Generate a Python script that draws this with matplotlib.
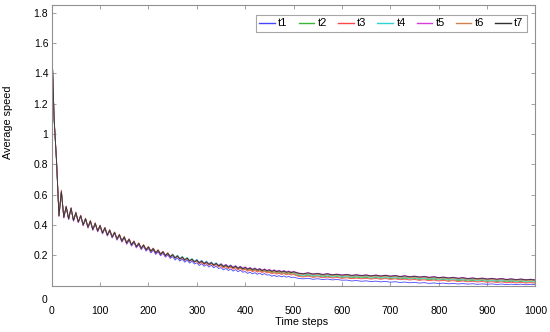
import matplotlib
matplotlib.use("Agg")
import matplotlib.pyplot as plt

plt.rcParams['font.family'] = ['Liberation Sans', 'DejaVu Sans']

# time steps: every 5 up to 500, then every 10
steps = list(range(0, 501, 5)) + list(range(510, 1001, 10))

t1 = [1.62, 1.09, 0.81, 0.46, 0.61, 0.45, 0.515, 0.435, 0.505, 0.425,
      0.475, 0.415, 0.455, 0.395, 0.435, 0.38, 0.42, 0.365, 0.405, 0.355,
      0.389, 0.341, 0.374, 0.327, 0.359, 0.314, 0.344, 0.3, 0.329, 0.287,
      0.312, 0.272, 0.297, 0.26, 0.283, 0.248, 0.27, 0.237, 0.258, 0.227,
      0.244, 0.215, 0.233, 0.205, 0.222, 0.196, 0.212, 0.187, 0.202, 0.179,
      0.19, 0.168, 0.182, 0.161, 0.174, 0.154, 0.167, 0.148, 0.16, 0.142,
      0.15, 0.132, 0.144, 0.127, 0.138, 0.122, 0.133, 0.117, 0.128, 0.112,
      0.118, 0.103, 0.113, 0.099, 0.109, 0.095, 0.105, 0.091, 0.101, 0.088,
      0.092, 0.08, 0.088, 0.077, 0.085, 0.074, 0.082, 0.071, 0.079, 0.069,
      0.071, 0.061, 0.068, 0.059, 0.065, 0.057, 0.063, 0.055, 0.06, 0.053,
      0.055,
      0.047, 0.044, 0.048, 0.041, 0.045, 0.039, 0.043, 0.037, 0.040, 0.035,
      0.036, 0.030, 0.033, 0.028, 0.031, 0.026, 0.029, 0.024, 0.027, 0.022,
      0.025, 0.020, 0.023, 0.018, 0.021, 0.016, 0.019, 0.014, 0.017, 0.013,
      0.016, 0.011, 0.014, 0.010, 0.013, 0.009, 0.012, 0.008, 0.011, 0.008,
      0.011, 0.007, 0.010, 0.006, 0.009, 0.006, 0.009, 0.005, 0.008, 0.006]

t2 = [1.61, 1.10, 0.82, 0.46, 0.62, 0.45, 0.52, 0.44, 0.51, 0.43,
      0.48, 0.42, 0.46, 0.40, 0.44, 0.385, 0.425, 0.37, 0.41, 0.36,
      0.395, 0.347, 0.38, 0.333, 0.365, 0.32, 0.35, 0.306, 0.335, 0.293,
      0.32, 0.28, 0.305, 0.268, 0.291, 0.256, 0.278, 0.245, 0.266, 0.235,
      0.257, 0.228, 0.246, 0.218, 0.235, 0.209, 0.225, 0.2, 0.215, 0.192,
      0.207, 0.185, 0.199, 0.178, 0.191, 0.171, 0.184, 0.165, 0.177, 0.159,
      0.167, 0.149, 0.161, 0.144, 0.155, 0.139, 0.15, 0.134, 0.145, 0.129,
      0.136, 0.121, 0.131, 0.117, 0.127, 0.113, 0.123, 0.109, 0.119, 0.106,
      0.112, 0.1, 0.108, 0.097, 0.105, 0.094, 0.102, 0.091, 0.099, 0.089,
      0.093, 0.083, 0.09, 0.081, 0.087, 0.079, 0.085, 0.077, 0.082, 0.075,
      0.078,
      0.066, 0.062, 0.068, 0.06, 0.064, 0.057, 0.062, 0.055, 0.059, 0.053,
      0.057, 0.051, 0.055, 0.05, 0.054, 0.048, 0.053, 0.047, 0.052, 0.046,
      0.05, 0.044, 0.048, 0.042, 0.046, 0.04, 0.044, 0.038, 0.042, 0.036,
      0.04, 0.034, 0.038, 0.032, 0.036, 0.03, 0.034, 0.029, 0.033, 0.027,
      0.031, 0.026, 0.03, 0.024, 0.028, 0.023, 0.027, 0.022, 0.025, 0.021]

t3 = [1.62, 1.10, 0.83, 0.47, 0.63, 0.45, 0.525, 0.44, 0.515, 0.43,
      0.485, 0.42, 0.465, 0.40, 0.445, 0.385, 0.43, 0.37, 0.415, 0.36,
      0.399, 0.351, 0.384, 0.337, 0.369, 0.324, 0.354, 0.31, 0.339, 0.297,
      0.324, 0.284, 0.309, 0.272, 0.295, 0.26, 0.282, 0.249, 0.27, 0.239,
      0.258, 0.229, 0.247, 0.219, 0.236, 0.21, 0.226, 0.201, 0.216, 0.193,
      0.203, 0.181, 0.195, 0.174, 0.187, 0.167, 0.18, 0.161, 0.173, 0.155,
      0.161, 0.143, 0.155, 0.138, 0.149, 0.133, 0.144, 0.128, 0.139, 0.123,
      0.13, 0.115, 0.125, 0.111, 0.121, 0.107, 0.117, 0.103, 0.113, 0.1,
      0.106, 0.094, 0.102, 0.091, 0.099, 0.088, 0.096, 0.085, 0.093, 0.083,
      0.087, 0.077, 0.084, 0.075, 0.081, 0.073, 0.079, 0.071, 0.076, 0.069,
      0.073,
      0.06, 0.056, 0.062, 0.054, 0.058, 0.051, 0.056, 0.049, 0.053, 0.047,
      0.051, 0.045, 0.049, 0.044, 0.048, 0.042, 0.047, 0.041, 0.046, 0.04,
      0.044, 0.038, 0.042, 0.036, 0.04, 0.034, 0.038, 0.032, 0.036, 0.03,
      0.034, 0.028, 0.032, 0.026, 0.03, 0.024, 0.028, 0.023, 0.027, 0.021,
      0.025, 0.02, 0.024, 0.018, 0.022, 0.017, 0.021, 0.016, 0.019, 0.015]

t4 = [1.62, 1.10, 0.82, 0.46, 0.62, 0.45, 0.52, 0.44, 0.51, 0.43,
      0.48, 0.42, 0.46, 0.40, 0.44, 0.385, 0.425, 0.37, 0.41, 0.36,
      0.395, 0.347, 0.38, 0.333, 0.365, 0.32, 0.35, 0.306, 0.335, 0.293,
      0.32, 0.28, 0.305, 0.268, 0.291, 0.256, 0.278, 0.245, 0.266, 0.235,
      0.254, 0.225, 0.243, 0.215, 0.232, 0.206, 0.222, 0.197, 0.212, 0.189,
      0.207, 0.185, 0.199, 0.178, 0.191, 0.171, 0.184, 0.165, 0.177, 0.159,
      0.173, 0.155, 0.167, 0.15, 0.161, 0.145, 0.156, 0.14, 0.151, 0.135,
      0.144, 0.129, 0.139, 0.125, 0.135, 0.121, 0.131, 0.117, 0.127, 0.114,
      0.121, 0.109, 0.117, 0.106, 0.114, 0.103, 0.111, 0.1, 0.108, 0.098,
      0.103, 0.093, 0.1, 0.091, 0.097, 0.089, 0.095, 0.087, 0.092, 0.085,
      0.086,
      0.072, 0.068, 0.074, 0.066, 0.07, 0.063, 0.068, 0.061, 0.065, 0.059,
      0.063, 0.057, 0.061, 0.056, 0.06, 0.054, 0.059, 0.053, 0.058, 0.052,
      0.056, 0.05, 0.054, 0.048, 0.052, 0.046, 0.05, 0.044, 0.048, 0.042,
      0.046, 0.04, 0.044, 0.038, 0.042, 0.036, 0.04, 0.035, 0.039, 0.033,
      0.037, 0.032, 0.036, 0.03, 0.034, 0.029, 0.033, 0.028, 0.031, 0.027]

t5 = [1.62, 1.10, 0.82, 0.455, 0.62, 0.445, 0.52, 0.435, 0.51, 0.425,
      0.48, 0.414, 0.46, 0.394, 0.44, 0.379, 0.425, 0.364, 0.41, 0.354,
      0.395, 0.341, 0.38, 0.327, 0.365, 0.314, 0.35, 0.3, 0.335, 0.287,
      0.32, 0.274, 0.305, 0.262, 0.291, 0.25, 0.278, 0.239, 0.266, 0.229,
      0.254, 0.219, 0.243, 0.209, 0.232, 0.2, 0.222, 0.191, 0.212, 0.183,
      0.203, 0.181, 0.195, 0.174, 0.187, 0.167, 0.18, 0.161, 0.173, 0.155,
      0.169, 0.151, 0.163, 0.146, 0.157, 0.141, 0.152, 0.136, 0.147, 0.131,
      0.144, 0.129, 0.139, 0.125, 0.135, 0.121, 0.131, 0.117, 0.127, 0.114,
      0.123, 0.111, 0.119, 0.108, 0.116, 0.105, 0.113, 0.102, 0.11, 0.1,
      0.107, 0.097, 0.104, 0.095, 0.101, 0.093, 0.099, 0.091, 0.096, 0.089,
      0.094,
      0.083, 0.079, 0.085, 0.077, 0.081, 0.074, 0.079, 0.072, 0.076, 0.07,
      0.074, 0.068, 0.072, 0.067, 0.071, 0.065, 0.07, 0.064, 0.069, 0.063,
      0.067, 0.061, 0.065, 0.059, 0.063, 0.057, 0.061, 0.055, 0.059, 0.053,
      0.057, 0.051, 0.055, 0.049, 0.053, 0.047, 0.051, 0.046, 0.05, 0.044,
      0.048, 0.043, 0.047, 0.041, 0.045, 0.04, 0.044, 0.039, 0.042, 0.038]

t6 = [1.62, 1.10, 0.82, 0.46, 0.62, 0.45, 0.52, 0.44, 0.51, 0.43,
      0.48, 0.42, 0.46, 0.40, 0.44, 0.385, 0.425, 0.37, 0.41, 0.36,
      0.395, 0.347, 0.38, 0.333, 0.365, 0.32, 0.35, 0.306, 0.335, 0.293,
      0.32, 0.28, 0.305, 0.268, 0.291, 0.256, 0.278, 0.245, 0.266, 0.235,
      0.254, 0.225, 0.243, 0.215, 0.232, 0.206, 0.222, 0.197, 0.212, 0.189,
      0.203, 0.181, 0.195, 0.174, 0.187, 0.167, 0.18, 0.161, 0.173, 0.155,
      0.164, 0.146, 0.158, 0.141, 0.152, 0.136, 0.147, 0.131, 0.142, 0.126,
      0.135, 0.12, 0.13, 0.116, 0.126, 0.112, 0.122, 0.108, 0.118, 0.105,
      0.114, 0.102, 0.11, 0.099, 0.107, 0.096, 0.104, 0.093, 0.101, 0.091,
      0.098, 0.088, 0.095, 0.086, 0.092, 0.084, 0.09, 0.082, 0.087, 0.08,
      0.085,
      0.076, 0.072, 0.078, 0.07, 0.074, 0.067, 0.072, 0.065, 0.069, 0.063,
      0.067, 0.061, 0.065, 0.06, 0.064, 0.058, 0.063, 0.057, 0.062, 0.056,
      0.06, 0.054, 0.058, 0.052, 0.056, 0.05, 0.054, 0.048, 0.052, 0.046,
      0.05, 0.044, 0.048, 0.042, 0.046, 0.04, 0.044, 0.039, 0.043, 0.037,
      0.041, 0.036, 0.04, 0.034, 0.038, 0.033, 0.037, 0.032, 0.035, 0.031]

t7 = [1.62, 1.10, 0.82, 0.46, 0.62, 0.45, 0.52, 0.44, 0.51, 0.43,
      0.48, 0.42, 0.46, 0.40, 0.44, 0.385, 0.425, 0.37, 0.41, 0.36,
      0.395, 0.347, 0.38, 0.333, 0.365, 0.32, 0.35, 0.306, 0.335, 0.293,
      0.32, 0.28, 0.305, 0.268, 0.291, 0.256, 0.278, 0.245, 0.266, 0.235,
      0.254, 0.225, 0.243, 0.215, 0.232, 0.206, 0.222, 0.197, 0.212, 0.189,
      0.203, 0.181, 0.195, 0.174, 0.187, 0.167, 0.18, 0.161, 0.173, 0.155,
      0.167, 0.149, 0.161, 0.144, 0.155, 0.139, 0.15, 0.134, 0.145, 0.129,
      0.14, 0.125, 0.135, 0.121, 0.131, 0.117, 0.127, 0.113, 0.123, 0.11,
      0.119, 0.107, 0.115, 0.104, 0.112, 0.101, 0.109, 0.098, 0.106, 0.096,
      0.103, 0.093, 0.1, 0.091, 0.097, 0.089, 0.095, 0.087, 0.092, 0.085,
      0.09,
      0.081, 0.077, 0.083, 0.075, 0.079, 0.072, 0.077, 0.07, 0.074, 0.068,
      0.072, 0.066, 0.07, 0.065, 0.069, 0.063, 0.068, 0.062, 0.067, 0.061,
      0.065, 0.059, 0.063, 0.057, 0.061, 0.055, 0.059, 0.053, 0.057, 0.051,
      0.055, 0.049, 0.053, 0.047, 0.051, 0.045, 0.049, 0.044, 0.048, 0.042,
      0.046, 0.041, 0.045, 0.039, 0.043, 0.038, 0.042, 0.037, 0.04, 0.036]

names = ['t1', 't2', 't3', 't4', 't5', 't6', 't7']
series = [t1, t2, t3, t4, t5, t6, t7]
colors = ['#4646ff', '#3cb43c', '#ff4646', '#2ed2d2', '#d83cd8', '#d2824e', '#303030']

xticks = [0, 100, 200, 300, 400, 500, 600, 700, 800, 900, 1000]
yticks = [0.2, 0.4, 0.6, 0.8, 1.0, 1.2, 1.4, 1.6, 1.8]
ytick_labels = ['0.2', '0.4', '0.6', '0.8', '1', '1.2', '1.4', '1.6', '1.8']

fig = plt.figure(figsize=(5.5, 3.32), dpi=100)
ax = fig.add_axes([0.094, 0.14, 0.8796, 0.845])

for name, vals, c in zip(names, series, colors):
    ax.plot(steps, vals, color=c, lw=0.6, label=name)

ax.set_xlim(0, 1000)
ax.set_ylim(0, 1.85)
ax.set_xticks(xticks)
ax.set_xticklabels([str(v) for v in xticks])
ax.set_yticks(yticks)
ax.set_yticklabels(ytick_labels)

frame = '#909090'
for sp in ax.spines.values():
    sp.set_color(frame)
    sp.set_linewidth(0.8)
ax.tick_params(direction='in', top=True, right=True, length=3, width=0.6,
               color=frame, labelsize=7.5, labelcolor='black')
ax.tick_params(axis='x', pad=15)
ax.tick_params(axis='y', pad=2.5)

# MATLAB-style "0" sitting below the y axis
ax.annotate('0', xy=(0, 0), xycoords='axes fraction', xytext=(-7, -14),
            textcoords='offset pixels', fontsize=7.5, ha='center', va='center')

fig.text(8 / 550, 1 - 122 / 332, 'Average speed', rotation=90, fontsize=7.8,
         ha='center', va='center')
fig.text(302 / 550, 1 - 322 / 332, 'Time steps', fontsize=7.8,
         ha='center', va='center')

leg = ax.legend(loc='upper right', bbox_to_anchor=(0.982, 0.964), ncol=7,
                fontsize=8, frameon=True, fancybox=False, borderaxespad=0,
                handlelength=1.4, handletextpad=0.3, columnspacing=1.0,
                borderpad=0.3)
leg.get_frame().set_edgecolor(frame)
leg.get_frame().set_linewidth(0.8)
for ln in leg.get_lines():
    ln.set_linewidth(1.0)

fig.savefig('out.png', dpi=100)
